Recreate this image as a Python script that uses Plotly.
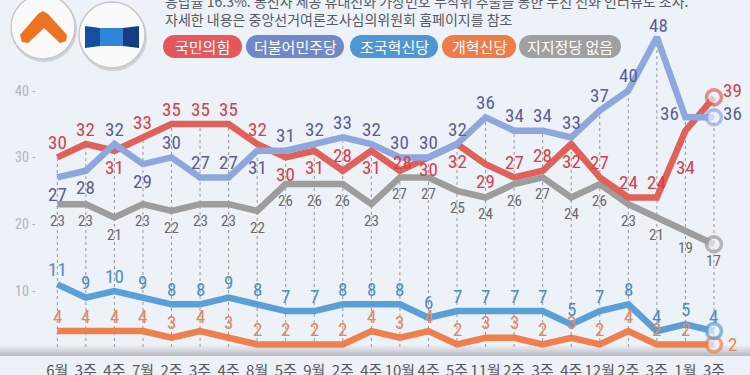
import plotly.graph_objects as go

# ---------------- data ----------------
periods = ["6월", "3주", "4주", "7월", "2주", "3주", "4주", "8월", "5주", "9월", "2주", "4주",
           "10월", "4주", "5주", "11월", "2주", "3주", "4주", "12월", "2주", "3주", "1월", "3주"]
ppp = [30, 32, 31, 33, 35, 35, 35, 32, 30, 31, 28, 31, 28, 30, 32, 29, 27, 28, 32, 27, 24, 24, 34, 39]
dem = [27, 28, 32, 29, 30, 27, 27, 31, 31, 32, 33, 32, 30, 30, 32, 36, 34, 34, 33, 37, 40, 48, 36, 36]
rebuild = [11, 9, 10, 9, 8, 8, 9, 8, 7, 7, 8, 8, 8, 6, 7, 7, 7, 7, 5, 7, 8, 4, 5, 4]
reform = [4, 4, 4, 4, 3, 4, 3, 2, 2, 2, 2, 4, 3, 4, 2, 3, 3, 2, 3, 2, 4, 2, 2, 2]
nonep = [23, 23, 21, 23, 22, 23, 23, 22, 26, 26, 26, 23, 27, 27, 25, 24, 26, 27, 24, 26, 23, 21, 19, 17]
party_names = ["국민의힘", "더불어민주당", "조국혁신당", "개혁신당", "지지정당 없음"]
y_ticks = [10, 20, 30, 40]
note_lines = ["응답률 16.3%. 통신사 제공 휴대전화 가상번호 무작위 추출을 통한 무선 전화 인터뷰도 조사.",
              "자세한 내용은 중앙선거여론조사심의위원회 홈페이지를 참조"]

# ---------------- style / layout helpers ----------------
W, H = 750, 375
MB = 20
PH = H - MB  # plot height in px
X0PX, XSTEP = 57.3, 28.55
Y0PX, YSTEP = 357.8, 6.68


def px2x(px):
    return (px - X0PX) / XSTEP


def py2v(py):
    return (Y0PX - py) / YSTEP


def pp(px, py):
    return px / W, 1 - py / PH


BG = "#edf1f8"
NUMFONT = "Liberation Sans Narrow, Roboto Condensed, Arial Narrow, Roboto, sans-serif"
KRFONT = "Noto Sans CJK KR, Noto Sans, sans-serif"

series = [
    dict(v=nonep, lc="#9d9d9d", tc="#6a6a6a", fs=15,
         pos=["b"] * 24, ov={}),
    dict(v=ppp, lc="#e0605a", tc="#d4414d", fs=19,
         pos=["a", "a", "b", "a", "a", "a", "a", "a", "b", "b", "a", "b",
              "a", "b", "b", "b", "a", "a", "b", "a", "a", "a", "b", "r"],
         ov={12: (3, -8), 13: (0, 12), 22: (0, 37), 23: (19, -7)}),
    dict(v=dem, lc="#8ea8dd", tc="#5b5e99", fs=19,
         pos=["b", "b", "a", "b", "a", "a", "a", "b", "a", "a", "a", "a",
              "a", "a", "a", "a", "a", "a", "a", "a", "a", "a", "l", "r"],
         ov={21: (2, -12), 23: (19, -4)}),
    dict(v=reform, lc="#f07f4e", tc="#e8845a", fs=19,
         pos=["a"] * 23 + ["r"], ov={23: (19, 0)}),
    dict(v=rebuild, lc="#5b9fd8", tc="#4d8ec2", fs=19,
         pos=["a"] * 24, ov={}),
]
OFF = {"a": (0, -15), "b": (0, 17), "r": (19, -4), "l": (-16, -4)}

fig = go.Figure()
annotations = []
shapes = []

xs = list(range(len(periods)))

for i in xs:
    top = max(s["v"][i] for s in series)
    shapes.append(dict(type="line", xref="x", yref="y", x0=i, x1=i,
                       y0=py2v(347), y1=top, layer="below",
                       line=dict(color="#9a9a9a", width=1, dash="3px,3px")))

for s in series:
    n = len(s["v"])
    fig.add_trace(go.Scatter(
        x=xs, y=s["v"], mode="lines+markers",
        line=dict(color=s["lc"], width=6.5),
        marker=dict(size=[0] * (n - 1) + [15], color=BG,
                    line=dict(color=s["lc"], width=[0] * (n - 1) + [3.5])),
        hoverinfo="skip", showlegend=False, cliponaxis=False))
    for i, val in enumerate(s["v"]):
        dx, dy = s["ov"].get(i, OFF[s["pos"][i]])
        annotations.append(dict(x=i, y=val, xref="x", yref="y", text=str(val),
                                showarrow=False, xshift=dx, yshift=-dy,
                                xanchor="center", yanchor="middle",
                                font=dict(family=NUMFONT, size=s["fs"], color=s["tc"])))

band_cols = ["#e3e6eb", "#dadde3", "#d0d3d9", "#c5c8ce", "#babdc3"]
for k, c in enumerate(band_cols):
    x0, y0 = pp(0, 346 + 2 * k)
    x1, y1 = pp(W, 348 + 2 * k)
    shapes.append(dict(type="rect", xref="paper", yref="paper", x0=x0, x1=x1,
                       y0=y0, y1=y1, fillcolor=c, line=dict(width=0), layer="below"))


def pill_path(xa, xb, ya, yb):
    r = (yb - ya) / 2
    k = 0.5523 * r

    def P(x, y):
        a, b = pp(x, y)
        return f"{a:.5f},{b:.5f}"
    cmds = ["M" + P(xa + r, ya),
            "L" + P(xb - r, ya),
            "C" + P(xb - r + k, ya) + " " + P(xb, ya + r - k) + " " + P(xb, ya + r),
            "C" + P(xb, ya + r + k) + " " + P(xb - r + k, yb) + " " + P(xb - r, yb),
            "L" + P(xa + r, yb),
            "C" + P(xa + r - k, yb) + " " + P(xa, ya + r + k) + " " + P(xa, ya + r),
            "C" + P(xa, ya + r - k) + " " + P(xa + r - k, ya) + " " + P(xa + r, ya)]
    return " ".join(cmds) + " Z"


pill_spans = [(163, 242), (246, 344), (350, 438), (442, 516), (519, 621)]
pill_cols = ["#e4585d", "#7088c8", "#4f96d4", "#ef7b47", "#a0a0a0"]
for (xa, xb), c, name in zip(pill_spans, pill_cols, party_names):
    shapes.append(dict(type="path", xref="paper", yref="paper",
                       path=pill_path(xa, xb, 35, 58), fillcolor=c, line=dict(width=0)))
    cx, cy = pp((xa + xb) / 2, 46.5)
    annotations.append(dict(x=cx, y=cy, xref="paper", yref="paper", text=name,
                            showarrow=False, xanchor="center", yanchor="middle",
                            font=dict(family=KRFONT, size=15, color="white")))

for j, line in enumerate(note_lines):
    lx, ly = pp(163, 1 + 18 * j)
    annotations.append(dict(x=lx, y=ly, xref="paper", yref="paper", text=line,
                            showarrow=False, xanchor="left", yanchor="middle",
                            font=dict(family=KRFONT, size=14, color="#555a63")))


def circ(cx, cy, r, fill, lc, lw):
    x0, y0 = pp(cx - r, cy + r)
    x1, y1 = pp(cx + r, cy - r)
    return dict(type="circle", xref="paper", yref="paper", x0=x0, x1=x1, y0=y0, y1=y1,
                fillcolor=fill, line=dict(color=lc, width=lw))


def poly(points, fill):
    cmds = []
    for k, (x, y) in enumerate(points):
        a, b = pp(x, y)
        cmds.append(("M" if k == 0 else "L") + f"{a:.5f},{b:.5f}")
    return dict(type="path", xref="paper", yref="paper", path=" ".join(cmds) + " Z",
                fillcolor=fill, line=dict(width=0))


shapes.append(circ(44, 29, 33, "#cfd2d6", "#cfd2d6", 0))
shapes.append(circ(43, 27, 32, "#fafafa", "#c9c9c9", 1.5))
shapes.append(circ(113, 37, 34, "#cfd2d6", "#cfd2d6", 0))
shapes.append(circ(112, 35, 33, "#fafafa", "#c9c9c9", 1.5))
shapes.append(poly([(20, 35), (38, 14), (43, 11), (48, 14), (67, 35), (66, 41), (60, 43),
                    (44, 28), (28, 43), (22, 42)], "#ee7320"))
shapes.append(poly([(85, 26), (100, 28), (100, 46), (85, 48)], "#154f9e"))
shapes.append(poly([(100, 28), (123, 28), (123, 46), (100, 46)], "#2f86d6"))
shapes.append(poly([(123, 28), (139, 26), (139, 48), (123, 46)], "#163c84"))

fig.update_layout(
    width=W, height=H,
    margin=dict(l=0, r=0, t=0, b=MB, autoexpand=False),
    paper_bgcolor=BG, plot_bgcolor=BG,
    shapes=shapes, annotations=annotations,
    xaxis=dict(range=[px2x(0), px2x(W)], tickvals=xs, ticktext=periods,
               showgrid=False, zeroline=False, showline=False, ticks="",
               automargin=False, ticklabelstandoff=5,
               tickfont=dict(family=KRFONT, size=15, color="#555a63"),
               fixedrange=True),
    yaxis=dict(range=[py2v(PH), py2v(0)], tickvals=y_ticks,
               ticktext=[f"{t} -" for t in y_ticks],
               ticklabelposition="inside", ticklabelstandoff=12,
               showgrid=False, zeroline=False, showline=False, ticks="",
               automargin=False,
               tickfont=dict(family=NUMFONT, size=14, color="#b3b6bb"),
               fixedrange=True),
)

fig.write_html("out.html", config={"displayModeBar": False},
               post_script="document.body.style.margin='0px';document.body.style.overflow='hidden';")
